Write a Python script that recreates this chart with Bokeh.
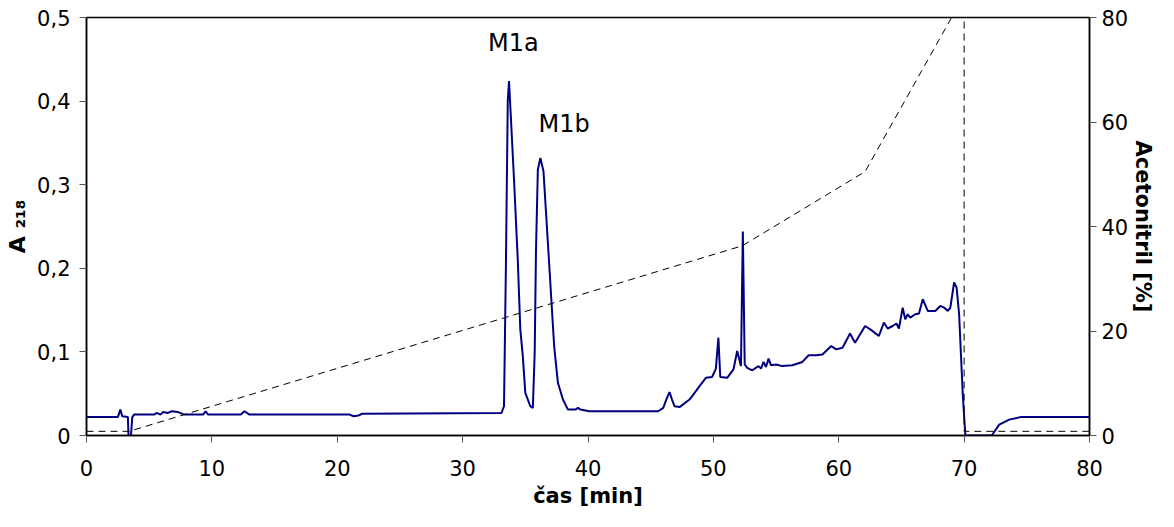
import numpy as np
from bokeh.plotting import figure
from bokeh.models import Range1d, LinearAxis, Label, CustomJSTickFormatter, FixedTicker
from bokeh.embed import file_html
from bokeh.resources import INLINE

# --- data ---
time_min = [0, 2.5, 2.7, 2.85, 3.3, 3.35, 3.55, 3.65, 3.8, 5.4, 5.6, 5.9, 6.1, 6.5, 6.8, 7.3, 7.8,
            9.3, 9.5, 9.7, 12.3, 12.6, 13.0, 21.0, 21.3, 21.7, 22.0, 33.1, 33.3, 33.45, 33.6, 33.7,
            33.85, 34.1, 34.4, 34.6, 34.8, 35.0, 35.4, 35.6, 35.75, 35.85, 36.0, 36.2, 36.45, 36.9,
            37.3, 37.6, 38.0, 38.4, 39.0, 39.2, 39.4, 40.1, 45.6, 46.0, 46.3, 46.5, 46.7, 46.9, 47.3,
            48.1, 48.9, 49.4, 49.9, 50.2, 50.4, 50.55, 51.1, 51.6, 51.9, 52.2, 52.35, 52.5, 52.7,
            53.1, 53.6, 53.8, 54.0, 54.2, 54.4, 54.6, 55.0, 55.5, 56.3, 57.1, 57.6, 58.2, 58.7, 59.4,
            59.8, 60.3, 60.9, 61.3, 62.1, 62.6, 63.2, 63.6, 63.9, 64.3, 64.6, 64.8, 65.1, 65.3, 65.5,
            65.7, 66.1, 66.4, 66.7, 67.1, 67.7, 68.1, 68.4, 68.7, 68.9, 69.2, 69.4, 69.6, 69.9, 70.1,
            72.2, 72.8, 73.6, 74.5, 80]
absorbance = [0.022, 0.022, 0.031, 0.023, 0.022, 0.0, 0.0, 0.022, 0.025, 0.025, 0.027, 0.025, 0.028,
              0.027, 0.029, 0.028, 0.025, 0.025, 0.029, 0.025, 0.025, 0.029, 0.025, 0.025, 0.023,
              0.024, 0.026, 0.027, 0.035, 0.2, 0.4, 0.424, 0.38, 0.306, 0.21, 0.127, 0.095, 0.051,
              0.035, 0.033, 0.1, 0.22, 0.318, 0.332, 0.316, 0.206, 0.107, 0.063, 0.043, 0.031, 0.031,
              0.033, 0.031, 0.029, 0.029, 0.033, 0.045, 0.052, 0.043, 0.035, 0.034, 0.043, 0.059,
              0.069, 0.070, 0.08, 0.117, 0.07, 0.069, 0.079, 0.101, 0.083, 0.244, 0.085, 0.081,
              0.078, 0.083, 0.080, 0.088, 0.082, 0.092, 0.084, 0.085, 0.083, 0.084, 0.088, 0.096,
              0.096, 0.097, 0.107, 0.103, 0.105, 0.122, 0.111, 0.131, 0.126, 0.119, 0.135, 0.128,
              0.131, 0.134, 0.128, 0.153, 0.139, 0.145, 0.141, 0.145, 0.146, 0.163, 0.149, 0.149,
              0.155, 0.153, 0.149, 0.153, 0.183, 0.177, 0.145, 0.047, 0.0, 0.0, 0.013, 0.019, 0.022,
              0.022]

gradient_time = [0, 3.4, 52.3, 62.1, 69.0, 70.0, 70.0, 80]
gradient_pct = [0.8, 0.8, 36.3, 50.5, 80, 80, 0.8, 0.8]

peak_names = ["M1a", "M1b"]
peak_label_x = [34.05, 38.1]
peak_label_y = [0.47, 0.373]

x_ticks = [0, 10, 20, 30, 40, 50, 60, 70, 80]
y_ticks = [0, 0.1, 0.2, 0.3, 0.4, 0.5]
pct_ticks = [0, 20, 40, 60, 80]

FONT = "DejaVu Sans"

p = figure(width=1158, height=511, output_backend="svg", toolbar_location=None,
           x_range=Range1d(0, 80), y_range=Range1d(0, 0.5),
           min_border_left=86, min_border_right=69, min_border_top=17, min_border_bottom=76)
p.extra_y_ranges = {"pct": Range1d(0, 80)}

p.xgrid.visible = False
p.ygrid.visible = False
p.outline_line_color = "black"
p.outline_line_width = 1.5
p.background_fill_color = "white"
p.border_fill_color = "white"

def style_axis(ax):
    ax.axis_line_color = "black"
    ax.axis_line_width = 1.5
    ax.major_tick_line_color = "#555555"
    ax.major_tick_line_width = 1
    ax.major_tick_out = 7
    ax.major_tick_in = 0
    ax.minor_tick_line_color = None
    ax.major_label_text_font = FONT
    ax.major_label_text_font_size = "21px"
    ax.major_label_text_color = "black"
    ax.axis_label_text_font = FONT
    ax.axis_label_text_font_style = "bold"
    ax.axis_label_text_color = "black"

xa = p.xaxis[0]
style_axis(xa)
xa.ticker = FixedTicker(ticks=x_ticks)
xa.major_label_standoff = 17
xa.axis_label = "čas [min]"
xa.axis_label_text_font_size = "21px"
xa.axis_label_standoff = 5

ya = p.yaxis[0]
style_axis(ya)
ya.ticker = FixedTicker(ticks=y_ticks)
ya.major_label_standoff = 9
ya.formatter = CustomJSTickFormatter(code="""
    if (Math.abs(tick) < 1e-9) { return "0"; }
    return tick.toFixed(1).replace(".", ",");
""")
ya.axis_label = "A ₂₁₈"
ya.axis_label_text_font_size = "22px"
ya.axis_label_standoff = 4

ra = LinearAxis(y_range_name="pct", ticker=FixedTicker(ticks=pct_ticks))
style_axis(ra)
ra.major_label_standoff = 5
ra.axis_label = "Acetonitril [%]"
ra.axis_label_text_font_size = "21px"
ra.axis_label_standoff = 0
p.add_layout(ra, "right")

# curves
p.line(time_min, absorbance, line_color="#000080", line_width=2)
p.line(gradient_time, gradient_pct, y_range_name="pct", line_color="black",
       line_width=1, line_dash="7 5")

# peak labels
for name, lx, ly in zip(peak_names, peak_label_x, peak_label_y):
    p.add_layout(Label(x=lx, y=ly, text=name, text_font=FONT, text_font_size="24px",
                       text_align="center", text_baseline="middle", text_color="black"))

open("out.html", "w").write(file_html(p, INLINE))
